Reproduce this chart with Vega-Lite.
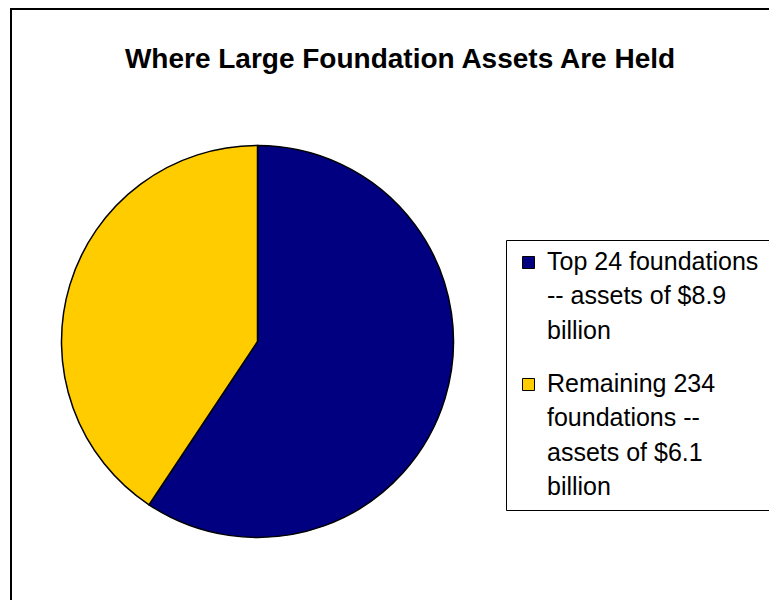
{
  "$schema": "https://vega.github.io/schema/vega-lite/v6.json",
  "width": 788,
  "height": 600,
  "autosize": "none",
  "padding": {"left": 11, "top": 9, "right": -30, "bottom": -9},
  "background": "white",
  "title": {
    "text": "Where Large Foundation Assets Are Held",
    "anchor": "middle",
    "frame": "group",
    "offset": -66,
    "dx": -5,
    "font": "Liberation Sans",
    "fontSize": 28,
    "fontWeight": "bold",
    "color": "black"
  },
  "layer": [
    {
      "data": {"values": [{"frame": "chart area"}]},
      "mark": {
        "type": "rect",
        "fill": "transparent",
        "stroke": "black",
        "strokeWidth": 2,
        "x": {"expr": "0"},
        "y": {"expr": "0"},
        "x2": {"expr": "width + 100"},
        "y2": {"expr": "height + 100"}
      },
      "encoding": {}
    },
    {
      "data": {
        "values": [
          {"category": "Top 24 foundations\n-- assets of $8.9\nbillion", "assets": 8.9, "rank": 1},
          {"category": "Remaining 234\nfoundations --\nassets of $6.1\nbillion", "assets": 6.1, "rank": 2}
        ]
      },
      "mark": {
        "type": "arc",
        "x": 246.5,
        "y": 332.5,
        "outerRadius": 196,
        "stroke": "black",
        "strokeWidth": 1.5
      },
      "encoding": {
        "theta": {"field": "assets", "type": "quantitative", "stack": true},
        "order": {"field": "rank", "type": "quantitative"},
        "color": {
          "field": "category",
          "type": "nominal",
          "sort": null,
          "scale": {
            "domain": ["Top 24 foundations\n-- assets of $8.9\nbillion", "Remaining 234\nfoundations --\nassets of $6.1\nbillion"],
            "range": ["#000080", "#FFCC00"]
          },
          "legend": {
            "title": null,
            "orient": "none",
            "legendX": 495,
            "legendY": 231,
            "padding": 10,
            "strokeColor": "black",
            "fillColor": "white",
            "symbolType": "square",
            "symbolSize": 144,
            "symbolStrokeColor": "black",
            "symbolStrokeWidth": 1,
            "symbolOpacity": 1,
            "labelExpr": "split(datum.label, '\\n')",
            "labelFont": "Liberation Sans",
            "labelFontSize": 25,
            "labelColor": "black",
            "labelBaseline": "top",
            "labelOffset": 6,
            "labelLimit": 400,
            "rowPadding": 28
          }
        }
      }
    }
  ],
  "config": {
    "view": {"stroke": "black", "strokeWidth": 2},
    "legend": {"strokeWidth": 1},
    "style": {"guide-label": {"lineHeight": 34.3, "dy": -12.5}}
  }
}
